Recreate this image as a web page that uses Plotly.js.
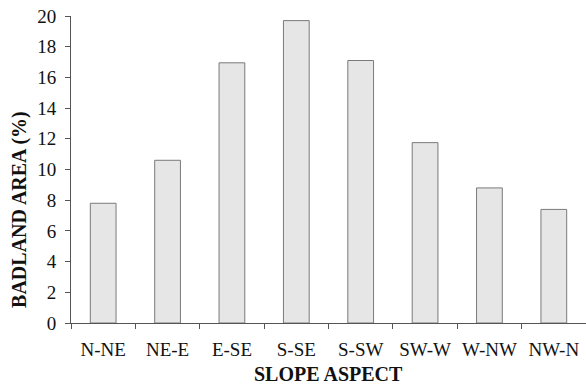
<!DOCTYPE html>
<html>
<head>
<meta charset="utf-8">
<script src="https://cdn.plot.ly/plotly-3.0.1.min.js"></script>
<style>html,body{margin:0;padding:0;background:#fff;}#chart{width:586px;height:385px;}</style>
</head>
<body>
<div id="chart"></div>
<script>
const categories = ["N-NE", "NE-E", "E-SE", "S-SE", "S-SW", "SW-W", "W-NW", "NW-N"];
const badlandArea = [7.8, 10.6, 16.95, 19.7, 17.1, 11.75, 8.8, 7.4];
const yTicks = [0, 2, 4, 6, 8, 10, 12, 14, 16, 18, 20];
const xTitle = "SLOPE ASPECT";
const yTitle = "BADLAND AREA (%)";

const serif = "Liberation Serif";

Plotly.newPlot("chart", [{
  type: "bar",
  x: categories,
  y: badlandArea,
  marker: {color: "#e6e6e6", line: {color: "#7a7a7a", width: 1}},
  hoverinfo: "none"
}], {
  width: 586, height: 385,
  margin: {l: 71, r: 0, t: 16, b: 62},
  paper_bgcolor: "#fff", plot_bgcolor: "#fff",
  bargap: 0.6,
  showlegend: false,
  xaxis: {
    type: "category",
    showgrid: false, zeroline: false,
    showline: true, linecolor: "#555", linewidth: 1,
    ticks: "outside", ticklen: 5, tickcolor: "#555",
    tickson: "boundaries",
    ticklabelstandoff: 9,
    tickfont: {family: serif, size: 19, color: "#111"},
    automargin: false
  },
  yaxis: {
    range: [0, 20], tickvals: yTicks,
    showgrid: false, zeroline: false,
    showline: true, linecolor: "#555", linewidth: 1,
    ticks: "outside", ticklen: 5, tickcolor: "#555",
    ticklabelstandoff: 5,
    tickfont: {family: serif, size: 19, color: "#111"},
    automargin: false
  },
  annotations: [
    {text: "<b>" + xTitle + "</b>", xref: "paper", yref: "paper", x: 0.5, y: -0.165, xanchor: "center", yanchor: "middle",
     showarrow: false, font: {family: serif, size: 20, color: "#111"}},
    {text: "<b>" + yTitle + "</b>", xref: "paper", yref: "paper", x: -0.1, y: 0.37, xanchor: "center", yanchor: "middle",
     textangle: -90, showarrow: false, font: {family: serif, size: 20, color: "#111"}}
  ]
}, {displayModeBar: false, staticPlot: true});
</script>
</body>
</html>
